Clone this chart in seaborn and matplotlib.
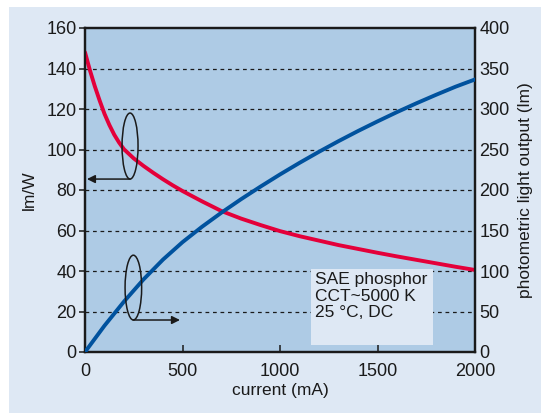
import matplotlib
matplotlib.use("Agg")
import matplotlib.pyplot as plt
from matplotlib.patches import Ellipse, Rectangle
import seaborn as sns
import pandas as pd

# ---- data ----
eff_current = [0, 25, 50, 75, 100, 125, 150, 175, 200, 250, 300, 350, 400, 450, 500,
               600, 700, 800, 900, 1000, 1100, 1200, 1300, 1400, 1500, 1600, 1700,
               1800, 1900, 2000]
eff_lmw = [148, 139.2, 131.3, 124.2, 117.6, 112.1, 107.3, 103.4, 100.1, 95.6, 91.9,
           88.5, 85.3, 82.3, 79.5, 74.4, 69.6, 65.9, 62.7, 59.7, 57.2, 55.0, 52.8,
           50.9, 49.0, 47.2, 45.5, 43.8, 42.1, 40.5]

lum_current = [0, 100, 200, 300, 400, 500, 600, 700, 800, 900, 1000, 1100, 1200,
               1300, 1400, 1500, 1600, 1700, 1800, 1900, 2000]
lum_lm = [0, 32.5, 62.3, 89.6, 114.1, 135.6, 154.6, 172.1, 188.6, 204.2, 219.2,
          233.5, 247.2, 260.3, 272.8, 284.7, 296.2, 307.1, 317.5, 327.5, 336.5]

x_ticks = [0, 500, 1000, 1500, 2000]
left_ticks = [0, 20, 40, 60, 80, 100, 120, 140, 160]
right_ticks = [0, 50, 100, 150, 200, 250, 300, 350, 400]
note_lines = ["SAE phosphor", "CCT~5000 K", "25 °C, DC"]

sns.set_style("ticks")
plt.rcParams["font.family"] = ["Liberation Sans", "DejaVu Sans"]

OUTER = "#dee8f4"
PLOT_BG = "#aecbe5"
RED = "#e4003a"
BLUE = "#00529e"
INK = "#1a1a1a"
FS = 13
LFS = 12.5

fig = plt.figure(figsize=(5.41, 4.13), dpi=100, facecolor="white")
fig.patches.append(Rectangle((9 / 541, 0), 1 - 9 / 541, 1 - 7 / 413,
                             transform=fig.transFigure, facecolor=OUTER,
                             edgecolor="none", zorder=-10))
ax = fig.add_axes([85 / 541, 61 / 413, 390 / 541, 324 / 413])
ax.set_facecolor(PLOT_BG)

df_eff = pd.DataFrame({"current": eff_current, "lmw": eff_lmw})
df_lum = pd.DataFrame({"current": lum_current, "lm": lum_lm})

sns.lineplot(data=df_eff, x="current", y="lmw", ax=ax, color=RED, lw=2.8, zorder=5)
ax.set_xlim(0, 2000)
ax.set_ylim(0, 160)
ax.set_xticks(x_ticks)
ax.set_yticks(left_ticks)
for v in left_ticks[1:-1]:
    ax.axhline(v, color=INK, lw=0.9, ls=(0, (3, 3)), zorder=1)

ax2 = ax.twinx()
sns.lineplot(data=df_lum, x="current", y="lm", ax=ax2, color=BLUE, lw=2.8, zorder=5)
ax2.set_ylim(0, 400)
ax2.set_yticks(right_ticks)
ax2.set_xlim(0, 2000)

# note box
ax2.add_patch(Rectangle((1159, 3.5 * 2.5), 626, 37.5 * 2.5, facecolor=OUTER,
                        edgecolor="none", zorder=3))
ax2.text(1180, 99, "\n".join(note_lines), fontsize=12.5, color=INK,
         va="top", ha="left", linespacing=1.15, zorder=4)

# ellipses and arrows (left-axis units scaled to right axis)
s = 2.5
ax2.add_patch(Ellipse((231, 101.7 * s), 82, 32.6 * s, facecolor="none",
                      edgecolor=INK, lw=1.1, zorder=6))
ax2.annotate("", xy=(10, 85.4 * s), xytext=(231, 85.4 * s),
             arrowprops=dict(arrowstyle="-|>", color=INK, lw=1.1,
                             mutation_scale=12, shrinkA=0, shrinkB=0), zorder=6)
ax2.add_patch(Ellipse((248, 31.8 * s), 85, 32 * s, facecolor="none",
                      edgecolor=INK, lw=1.1, zorder=6))
ax2.annotate("", xy=(487, 15.8 * s), xytext=(248, 15.8 * s),
             arrowprops=dict(arrowstyle="-|>", color=INK, lw=1.1,
                             mutation_scale=12, shrinkA=0, shrinkB=0), zorder=6)

for a in (ax, ax2):
    for sp in a.spines.values():
        sp.set_color(INK)
        sp.set_linewidth(1.6)
        sp.set_visible(True)
    a.tick_params(labelsize=FS, colors=INK, width=1.1)

ax.tick_params(axis="x", direction="in", length=5, pad=8)
ax.tick_params(axis="y", direction="out", length=4, pad=2)
ax2.tick_params(axis="y", direction="out", length=0, pad=3)

ax.set_xlabel("current (mA)", fontsize=LFS, color=INK, labelpad=2)
ax.set_ylabel("lm/W", fontsize=LFS, color=INK, labelpad=7)
ax2.set_ylabel("photometric light output (lm)", fontsize=LFS, color=INK, labelpad=6)

fig.savefig("out.png", dpi=100, facecolor="white")
